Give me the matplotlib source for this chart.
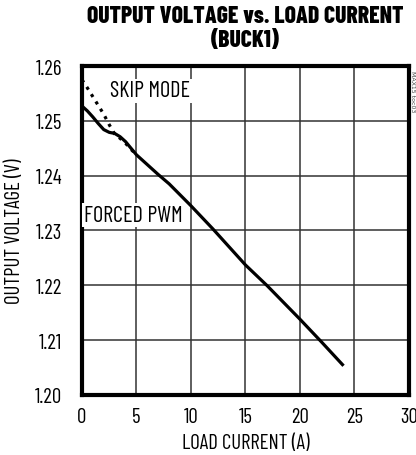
import os
import matplotlib
matplotlib.use("Agg")
import matplotlib.pyplot as plt
from matplotlib.font_manager import FontProperties

gf = '/usr/share/fonts/truetype/google-fonts/'
dv = '/usr/share/fonts/truetype/dejavu/'

def pick(*paths):
    for p in paths:
        if os.path.exists(p):
            return p
    return None

reg_file = pick(gf + 'BarlowCondensed-Regular.ttf', dv + 'DejaVuSansCondensed.ttf')
blk_file = pick(gf + 'BarlowCondensed-ExtraBold.ttf', gf + 'BarlowCondensed-Bold.ttf', dv + 'DejaVuSansCondensed-Bold.ttf')

def fp(f, size):
    if f:
        return FontProperties(fname=f, size=size)
    return FontProperties(family='DejaVu Sans', size=size)

# forced PWM (solid)
pwm_i = [0.0, 0.5, 1.0, 1.5, 2.0, 2.5, 3.0, 3.5, 4.0, 5.0, 6.0, 7.0, 8.0, 10.0, 12.0, 15.0, 17.0, 20.0, 22.0, 24.0]
pwm_v = [1.2527, 1.2518, 1.2507, 1.2495, 1.2484, 1.2479, 1.2477, 1.2471, 1.2462, 1.2438, 1.2420, 1.2402, 1.2385, 1.2345, 1.2303, 1.2237, 1.2199, 1.2138, 1.2096, 1.2053]

# skip mode (dotted), joins PWM curve around 5A
skip_i = [0.0, 0.5, 1.0, 1.5, 2.0, 2.5, 3.0, 3.5, 4.0, 4.5, 5.0]
skip_v = [1.2575, 1.2560, 1.2544, 1.2528, 1.2512, 1.2493, 1.2476, 1.2468, 1.2459, 1.2448, 1.2438]

xticks = [0, 5, 10, 15, 20, 25, 30]
yticks = [1.20, 1.21, 1.22, 1.23, 1.24, 1.25, 1.26]

fig = plt.figure(figsize=(4.16, 4.56), dpi=100)
ax = fig.add_axes([0.197, 0.132, 0.786, 0.721])

ax.plot(pwm_i, pwm_v, color='black', lw=2.3, solid_capstyle='butt', zorder=3)
ax.plot(skip_i, skip_v, color='black', lw=2.3, linestyle=(0, (1, 1.7)), zorder=3)

ax.set_xlim(0, 30)
ax.set_ylim(1.20, 1.26)
ax.set_xticks(xticks)
ax.set_yticks(yticks)
ax.set_xticklabels([str(t) for t in xticks], fontproperties=fp(reg_file, 15))
ax.set_yticklabels(['%.2f' % t for t in yticks], fontproperties=fp(reg_file, 15))
ax.tick_params(length=0)
ax.tick_params(axis='y', pad=14)
ax.tick_params(axis='x', pad=9)
ax.grid(True, color='#333333', lw=1.1)
ax.set_axisbelow(True)
for s in ax.spines.values():
    s.set_linewidth(3)

ax.set_xlabel('LOAD CURRENT (A)', fontproperties=fp(reg_file, 15), labelpad=5)
ax.set_ylabel('OUTPUT VOLTAGE (V)', fontproperties=fp(reg_file, 15), labelpad=8)

ax.text(2.6, 1.2555, 'SKIP MODE', fontproperties=fp(reg_file, 16), va='center', ha='left',
        bbox=dict(facecolor='white', edgecolor='none', pad=1))
ax.text(0.15, 1.2328, 'FORCED PWM', fontproperties=fp(reg_file, 16), va='center', ha='left',
        bbox=dict(facecolor='white', edgecolor='none', pad=1))

fig.text(0.59, 0.962, 'OUTPUT VOLTAGE vs. LOAD CURRENT', fontproperties=fp(blk_file, 17),
         ha='center', va='center')
fig.text(0.59, 0.910, '(BUCK1)', fontproperties=fp(blk_file, 17), ha='center', va='center')

fig.text(0.997, 0.80, 'MAX15 toc03', fontsize=4.5, rotation=270, ha='right', va='center', color='#444444')

fig.savefig('out.png', dpi=100)
